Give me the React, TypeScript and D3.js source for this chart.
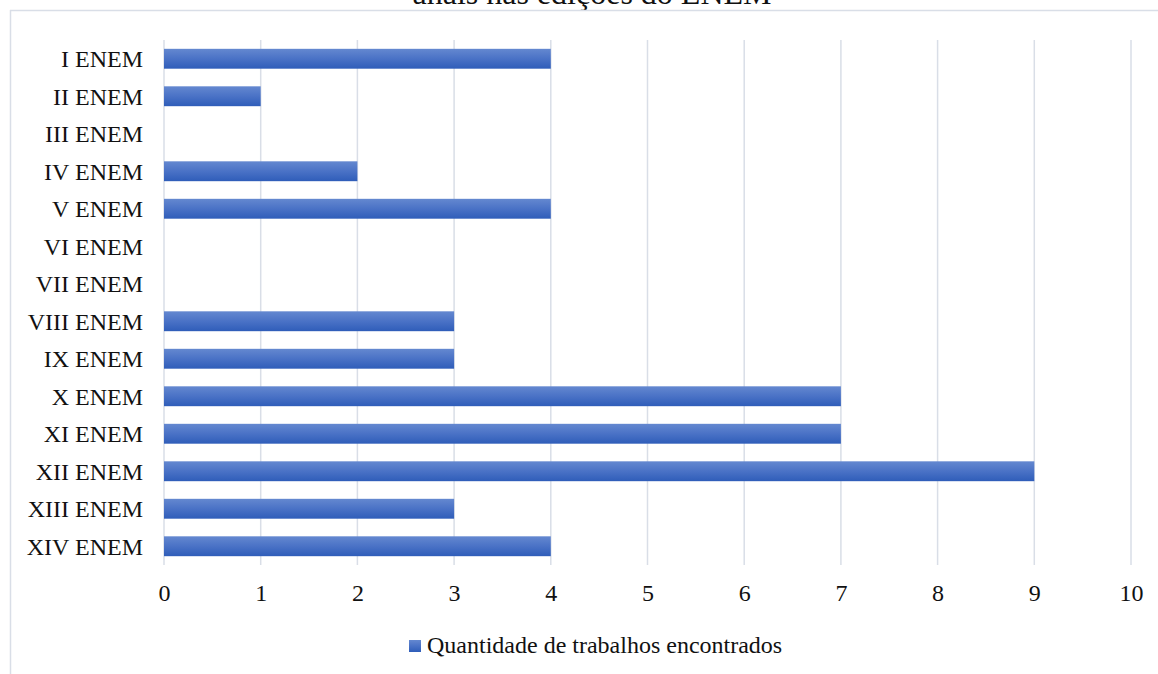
import * as d3 from 'd3';
import { useEffect, useRef } from 'react';

const categories = [
  'I ENEM', 'II ENEM', 'III ENEM', 'IV ENEM', 'V ENEM', 'VI ENEM', 'VII ENEM',
  'VIII ENEM', 'IX ENEM', 'X ENEM', 'XI ENEM', 'XII ENEM', 'XIII ENEM', 'XIV ENEM',
];
const values = [4, 1, 0, 2, 4, 0, 0, 3, 3, 7, 7, 9, 3, 4];
const xTicks = [0, 1, 2, 3, 4, 5, 6, 7, 8, 9, 10];
const seriesName = 'Quantidade de trabalhos encontrados';
const titleLine = 'anais nas edições do ENEM';

const width = 1158;
const height = 674;
const marginLeft = 164;
const marginRight = 27;
const marginTop = 40;
const plotBottom = 565;
const font = 'Liberation Serif, Tinos, DejaVu Serif, serif';
const gridColor = '#d9dee7';

export default function App() {
  const gx = useRef<SVGGElement>(null);

  const x = d3.scaleLinear([0, 10], [marginLeft, width - marginRight]);
  const y = d3
    .scaleBand<string>()
    .domain(categories)
    .range([marginTop, plotBottom])
    .paddingInner(0.47)
    .paddingOuter(0.235);

  useEffect(() => {
    if (!gx.current) return;
    const g = d3.select(gx.current);
    g.call(d3.axisBottom(x).tickValues(xTicks).tickSize(0).tickPadding(19));
    g.attr('font-family', null).attr('font-size', null);
    g.select('.domain').remove();
    g.selectAll('text').attr('fill', '#111');
  }, []);

  return (
    <svg
      width={width}
      height={height}
      style={{
        position: 'absolute',
        left: 0,
        top: 0,
        background: '#fff',
        fontFamily: font,
        fontSize: 24,
      }}
    >
      <defs>
        <linearGradient id='barGrad' x1='0' y1='0' x2='0' y2='1'>
          <stop offset='0%' stopColor='#6488d0' />
          <stop offset='50%' stopColor='#4a72c6' />
          <stop offset='100%' stopColor='#2f5db9' />
        </linearGradient>
      </defs>

      {/* title, cut off at the top as in the source */}
      <text x={592} y={4} textAnchor='middle' style={{ fontSize: 32 }} fill='#111'>
        {titleLine}
      </text>

      {/* chart frame */}
      <line x1={10} x2={width} y1={10.5} y2={10.5} stroke={gridColor} strokeWidth={1.5} />
      <line x1={10.5} x2={10.5} y1={10} y2={height} stroke={gridColor} strokeWidth={1.5} />

      {/* grid */}
      <g stroke={gridColor} strokeWidth={1.5}>
        {xTicks.map((t) => (
          <line key={t} x1={x(t)} x2={x(t)} y1={marginTop} y2={plotBottom} />
        ))}
      </g>

      {/* bars */}
      <g>
        {values.map((v, i) =>
          v > 0 ? (
            <rect
              key={i}
              x={x(0)}
              y={y(categories[i])}
              width={x(v) - x(0)}
              height={y.bandwidth()}
              fill='url(#barGrad)'
            />
          ) : null,
        )}
      </g>

      {/* category labels */}
      <g fill='#111' textAnchor='end'>
        {categories.map((c) => (
          <text key={c} x={143} y={(y(c) ?? 0) + y.bandwidth() / 2} dy='0.35em'>
            {c}
          </text>
        ))}
      </g>

      <g ref={gx} transform={`translate(0,${plotBottom})`} />

      {/* legend */}
      <rect x={409} y={640} width={12} height={12} fill='url(#barGrad)' />
      <text x={427} y={653} fill='#111'>
        {seriesName}
      </text>
    </svg>
  );
}
